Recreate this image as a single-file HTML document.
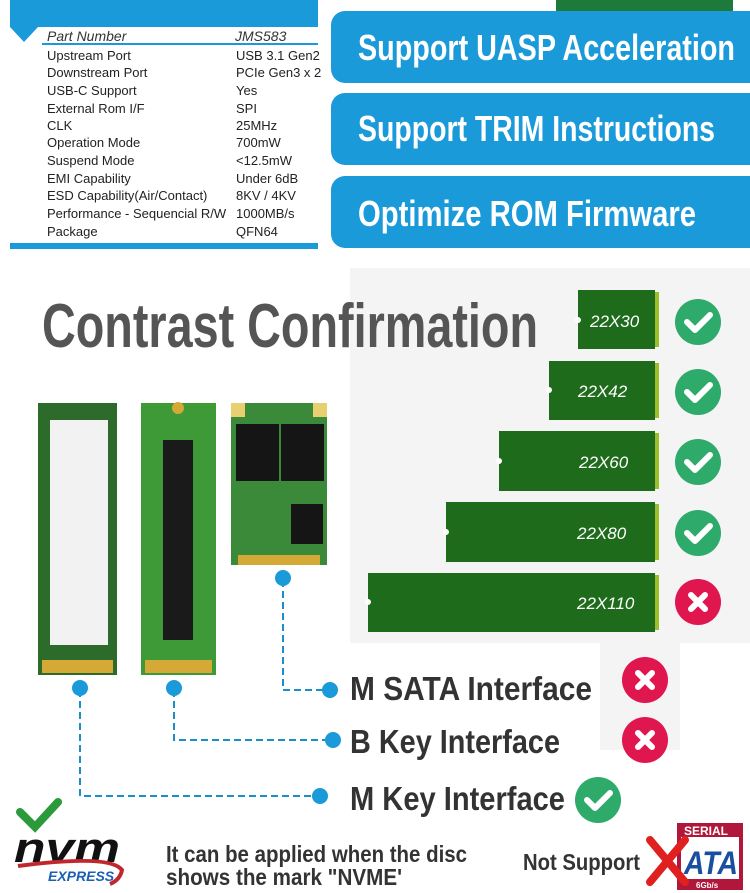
<!DOCTYPE html>
<html><head><meta charset="utf-8"><style>
html,body{margin:0;padding:0;background:#fff;width:750px;height:893px;overflow:hidden}
svg{display:block}
text{font-family:"Liberation Sans",Arial,sans-serif}
</style></head><body>
<svg width="750" height="893" viewBox="0 0 750 893" xmlns="http://www.w3.org/2000/svg">
<rect x="10" y="0" width="308" height="27" fill="#1a9ad9"/>
<polygon points="10,27 38,27 24,42" fill="#1a9ad9"/>
<rect x="42" y="43" width="276" height="2" fill="#1a9ad9"/>
<rect x="10" y="243" width="308" height="6" fill="#1a9ad9"/>
<g font-size="13" fill="#222">
<text x="47" y="41" font-style="italic" font-size="14" fill="#333">Part Number</text>
<text x="235" y="41" font-style="italic" font-size="14" fill="#333">JMS583</text>
<text x="47" y="60">Upstream Port</text><text x="236" y="60">USB 3.1 Gen2</text>
<text x="47" y="77">Downstream Port</text><text x="236" y="77">PCIe Gen3 x 2</text>
<text x="47" y="95">USB-C Support</text><text x="236" y="95">Yes</text>
<text x="47" y="113">External Rom I/F</text><text x="236" y="113">SPI</text>
<text x="47" y="130">CLK</text><text x="236" y="130">25MHz</text>
<text x="47" y="147">Operation Mode</text><text x="236" y="147">700mW</text>
<text x="47" y="165">Suspend Mode</text><text x="236" y="165">&lt;12.5mW</text>
<text x="47" y="183">EMI Capability</text><text x="236" y="183">Under 6dB</text>
<text x="47" y="200">ESD Capability(Air/Contact)</text><text x="236" y="200">8KV / 4KV</text>
<text x="47" y="218">Performance - Sequencial R/W</text><text x="236" y="218">1000MB/s</text>
<text x="47" y="236">Package</text><text x="236" y="236">QFN64</text>
</g>
<rect x="556" y="0" width="177" height="11" fill="#1e7a3a"/>
<rect x="331" y="11" width="440" height="72" rx="14" fill="#1a9ad9"/>
<rect x="331" y="93" width="440" height="72" rx="14" fill="#1a9ad9"/>
<rect x="331" y="176" width="440" height="72" rx="14" fill="#1a9ad9"/>
<g fill="#fff" font-size="36" font-weight="bold">
<text x="358" y="60" textLength="377" lengthAdjust="spacingAndGlyphs">Support UASP Acceleration</text>
<text x="358" y="141" textLength="357" lengthAdjust="spacingAndGlyphs">Support TRIM Instructions</text>
<text x="358" y="226" textLength="338" lengthAdjust="spacingAndGlyphs">Optimize ROM Firmware</text>
</g>
<rect x="350" y="268" width="400" height="375" fill="#f4f4f4"/>
<rect x="600" y="640" width="80" height="110" fill="#f4f4f4"/>
<text x="42" y="347" font-size="62" fill="#555" font-weight="bold" textLength="496" lengthAdjust="spacingAndGlyphs">Contrast Confirmation</text>
<g>
<rect x="578" y="290" width="77" height="59" fill="#1f6b1c"/><rect x="655" y="292" width="4" height="55" fill="#9bbf2a"/>
<rect x="549" y="361" width="106" height="59" fill="#1f6b1c"/><rect x="655" y="363" width="4" height="55" fill="#9bbf2a"/>
<rect x="499" y="431" width="156" height="60" fill="#1f6b1c"/><rect x="655" y="433" width="4" height="56" fill="#9bbf2a"/>
<rect x="446" y="502" width="209" height="60" fill="#1f6b1c"/><rect x="655" y="504" width="4" height="56" fill="#9bbf2a"/>
<rect x="368" y="573" width="287" height="59" fill="#1f6b1c"/><rect x="655" y="575" width="4" height="55" fill="#9bbf2a"/>
<circle cx="578" cy="320" r="3" fill="#fff"/><circle cx="549" cy="390" r="3" fill="#fff"/><circle cx="499" cy="461" r="3" fill="#fff"/><circle cx="446" cy="532" r="3" fill="#fff"/><circle cx="368" cy="602" r="3" fill="#fff"/>
</g>
<g fill="#fff" font-size="17" font-style="italic">
<text x="590" y="327">22X30</text>
<text x="578" y="397">22X42</text>
<text x="579" y="468">22X60</text>
<text x="577" y="539">22X80</text>
<text x="577" y="609">22X110</text>
</g>
<g stroke="#fff" stroke-width="6" stroke-linecap="round" stroke-linejoin="round" fill="none">
<circle cx="698" cy="322" r="23" fill="#2eaa6a" stroke="none"/><polyline points="687,322 695,330 710,315"/>
<circle cx="698" cy="392" r="23" fill="#2eaa6a" stroke="none"/><polyline points="687,392 695,400 710,385"/>
<circle cx="698" cy="462" r="23" fill="#2eaa6a" stroke="none"/><polyline points="687,462 695,470 710,455"/>
<circle cx="698" cy="533" r="23" fill="#2eaa6a" stroke="none"/><polyline points="687,533 695,541 710,526"/>
<circle cx="698" cy="602" r="23" fill="#e0164e" stroke="none"/><path d="M691,595 L705,609 M705,595 L691,609"/>
<circle cx="645" cy="680" r="23" fill="#e0164e" stroke="none"/><path d="M638,673 L652,687 M652,673 L638,687"/>
<circle cx="645" cy="740" r="23" fill="#e0164e" stroke="none"/><path d="M638,733 L652,747 M652,733 L638,747"/>
<circle cx="598" cy="800" r="23" fill="#2eaa6a" stroke="none"/><polyline points="587,800 595,808 610,793"/>
</g>
<rect x="38" y="403" width="79" height="272" fill="#2d6b2a"/>
<rect x="50" y="420" width="58" height="225" fill="#f2f2f2"/>
<rect x="42" y="660" width="71" height="13" fill="#d4a935"/>
<rect x="141" y="403" width="75" height="272" fill="#3d9a37"/>
<rect x="163" y="440" width="30" height="200" fill="#1a1a1a"/>
<rect x="145" y="660" width="67" height="13" fill="#d4a935"/>
<circle cx="178" cy="408" r="6" fill="#d4a935"/>
<rect x="231" y="403" width="96" height="162" fill="#3a8a3a"/>
<rect x="231" y="403" width="14" height="14" fill="#e8d070"/><rect x="313" y="403" width="14" height="14" fill="#e8d070"/>
<rect x="236" y="424" width="43" height="57" fill="#151515"/><rect x="281" y="424" width="43" height="57" fill="#151515"/>
<rect x="291" y="504" width="32" height="40" fill="#151515"/>
<rect x="238" y="555" width="82" height="10" fill="#d4a935"/>
<g stroke="#1a8fc9" stroke-width="2" stroke-dasharray="7,4" fill="none">
<polyline points="80,690 80,796 318,796"/>
<polyline points="174,690 174,740 330,740"/>
<polyline points="283,580 283,690 328,690"/>
</g>
<g fill="#1a9ad9">
<circle cx="80" cy="688" r="8"/><circle cx="174" cy="688" r="8"/><circle cx="283" cy="578" r="8"/>
<circle cx="330" cy="690" r="8"/><circle cx="333" cy="740" r="8"/><circle cx="320" cy="796" r="8"/>
</g>
<g fill="#333" font-size="33" font-weight="bold">
<text x="350" y="700" textLength="242" lengthAdjust="spacingAndGlyphs">M SATA Interface</text>
<text x="350" y="753" textLength="210" lengthAdjust="spacingAndGlyphs">B Key Interface</text>
<text x="350" y="810" textLength="215" lengthAdjust="spacingAndGlyphs">M Key Interface</text>
</g>
<polyline points="20,812 35,827 58,802" stroke="#2a9a3a" stroke-width="8" fill="none" stroke-linecap="round"/>
<text x="14" y="862" font-size="42" font-weight="bold" font-style="italic" fill="#111" textLength="106" lengthAdjust="spacingAndGlyphs">nvm</text>
<path d="M18,866 Q110,854 122,870 Q120,880 110,884" stroke="#c0272d" stroke-width="4" fill="none"/>
<text x="48" y="881" font-size="14" font-weight="bold" font-style="italic" fill="#1a5fb4">EXPRESS</text>
<g fill="#333" font-size="23" font-weight="bold">
<text x="166" y="862" textLength="301" lengthAdjust="spacingAndGlyphs">It can be applied when the disc</text>
<text x="166" y="885" textLength="236" lengthAdjust="spacingAndGlyphs">shows the mark "NVME'</text>
<text x="523" y="870" textLength="117" lengthAdjust="spacingAndGlyphs">Not Support</text>
</g>
<rect x="677" y="823" width="66" height="67" fill="#b0173a"/>
<rect x="681" y="837" width="58" height="42" fill="#fff"/>
<text x="684" y="835" font-size="12" font-weight="bold" fill="#fff">SERIAL</text>
<text x="684" y="874" font-size="32" font-weight="bold" font-style="italic" fill="#1a4fa0" textLength="54" lengthAdjust="spacingAndGlyphs">ATA</text>
<text x="696" y="888" font-size="8" font-weight="bold" fill="#fff">6Gb/s</text>
<path d="M650,840 L685,882 M685,840 L650,882" stroke="#e0201f" stroke-width="8" stroke-linecap="round"/>
</svg>
</body></html>
